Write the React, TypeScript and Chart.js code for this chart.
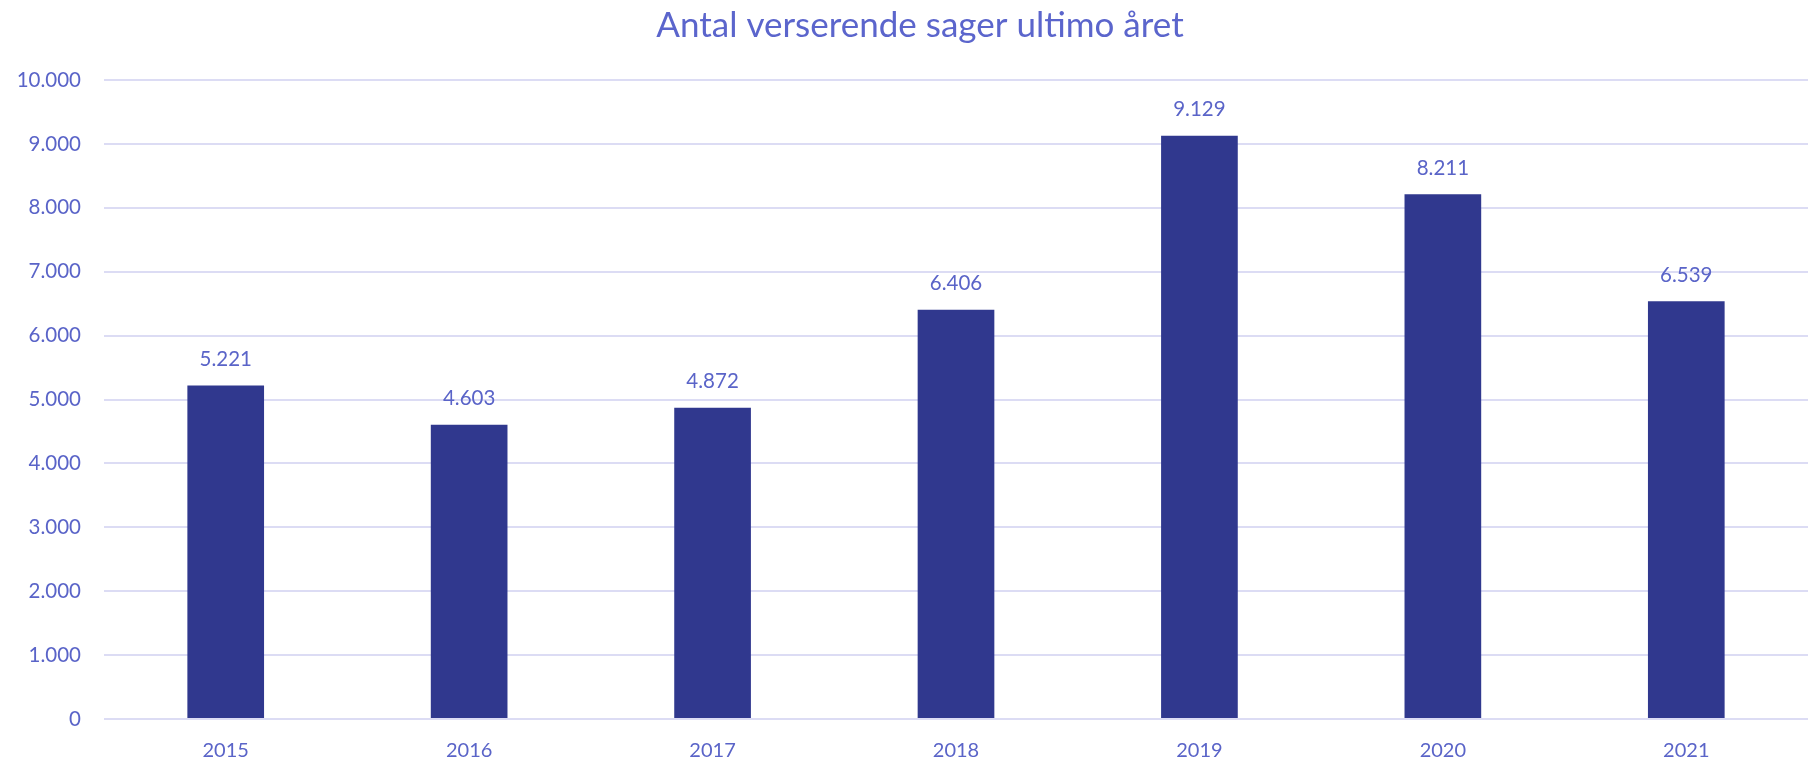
import React, { useEffect, useRef } from "react";
import { Chart, registerables } from "chart.js";

Chart.register(...registerables);

const categories: string[] = ["2015", "2016", "2017", "2018", "2019", "2020", "2021"];
const values: number[] = [5221, 4603, 4872, 6406, 9129, 8211, 6539];
const titleText = "Antal verserende sager ultimo året";

const FONT = "Lato, 'Open Sans', sans-serif";
const TEXT_COLOR = "#5A64C8";
const TITLE_COLOR = "#5B65CC";
const BAR_COLOR = "#30388E";
const GRID_COLOR = "#DCDCF4";

function fmt(n: number): string {
  const s = Math.round(n).toString();
  return s.replace(/\B(?=(\d{3})+(?!\d))/g, ".");
}

const valueLabels = {
  id: "valueLabels",
  afterDatasetsDraw(chart: any) {
    const ctx = chart.ctx;
    const meta = chart.getDatasetMeta(0);
    ctx.save();
    ctx.font = `20.5px ${FONT}`;
    ctx.fillStyle = TEXT_COLOR;
    ctx.textAlign = "center";
    ctx.textBaseline = "middle";
    meta.data.forEach((el: any, i: number) => {
      const v = chart.data.datasets[0].data[i] as number;
      ctx.fillText(fmt(v), el.x, el.y - 26);
    });
    ctx.restore();
  },
};

const chartTitle = {
  id: "chartTitle",
  afterDraw(chart: any) {
    const ctx = chart.ctx;
    ctx.save();
    ctx.font = `35px ${FONT}`;
    ctx.fillStyle = TITLE_COLOR;
    ctx.textAlign = "center";
    ctx.textBaseline = "middle";
    ctx.fillText(titleText, chart.width / 2 + 16, 26);
    ctx.restore();
  },
};

export default function App() {
  const ref = useRef<HTMLCanvasElement | null>(null);

  useEffect(() => {
    document.body.style.margin = "0";
    document.body.style.overflow = "hidden";
    if (!ref.current) return;
    const chart = new Chart(ref.current, {
      type: "bar",
      data: {
        labels: categories,
        datasets: [
          {
            data: values,
            backgroundColor: BAR_COLOR,
            borderWidth: 0,
            barPercentage: 0.315,
            categoryPercentage: 1,
          },
        ],
      },
      options: {
        animation: false,
        responsive: false,
        maintainAspectRatio: false,
        layout: { padding: { left: 0, right: 0, top: 80, bottom: 0 } },
        plugins: {
          legend: { display: false },
          tooltip: { enabled: false },
          title: { display: false },
        },
        scales: {
          x: {
            grid: { display: false, drawTicks: false },
            border: { display: false },
            ticks: {
              color: TEXT_COLOR,
              font: { family: FONT, size: 20 },
              padding: 20,
              maxRotation: 0,
            },
            afterFit(scale: any) {
              scale.height = 43;
            },
          },
          y: {
            min: 0,
            max: 10000,
            grid: { color: GRID_COLOR, lineWidth: 2, drawTicks: false },
            border: { display: false },
            ticks: {
              stepSize: 1000,
              color: TEXT_COLOR,
              font: { family: FONT, size: 20.5 },
              padding: 23,
              callback: (v: any) => fmt(Number(v)),
            },
            afterFit(scale: any) {
              scale.width = 104;
            },
          },
        },
      },
      plugins: [valueLabels, chartTitle],
    });
    return () => chart.destroy();
  }, []);

  return (
    <div style={{ width: 1808, height: 762 }}>
      <canvas ref={ref} width={1808} height={762} style={{ display: "block" }} />
    </div>
  );
}
